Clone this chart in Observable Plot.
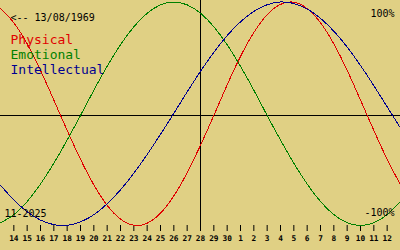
<!DOCTYPE html>
<html>
<head>
<meta charset="utf-8">
<script src="https://cdn.jsdelivr.net/npm/d3@7"></script>
<script src="https://cdn.jsdelivr.net/npm/@observablehq/plot@0.6"></script>
<style>
  html, body { margin: 0; padding: 0; background: #e0d084; }
  #chart svg { display: block; }
  #chart svg [aria-label="x-axis tick label"] text { font-family: "DejaVu Sans Mono", monospace; font-size: 7.8px; font-weight: bold; }
</style>
</head>
<body>
<div id="chart"></div>
<script>
// Day tick labels (index 1..29); index 15 = today (28)
const dayLabels = ["14","15","16","17","18","19","20","21","22","23","24","25","26","27","28","29","30","1","2","3","4","5","6","7","8","9","10","11","12"];
const todayIndex = 15;

// Series values per day index 0..30 (fraction of 100%)
const physical = [0.942,0.817,0.631,0.398,0.136,-0.136,-0.398,-0.631,-0.817,-0.942,-0.998,-0.979,-0.888,-0.731,-0.520,-0.270,0,0.270,0.520,0.731,0.888,0.979,0.998,0.942,0.817,0.631,0.398,0.136,-0.136,-0.398,-0.631];
const emotional = [-0.975,-0.901,-0.782,-0.623,-0.434,-0.223,0,0.223,0.434,0.623,0.782,0.901,0.975,1.0,0.975,0.901,0.782,0.623,0.434,0.223,0,-0.223,-0.434,-0.623,-0.782,-0.901,-0.975,-1.0,-0.975,-0.901,-0.782];
const intellectual = [-0.633,-0.768,-0.875,-0.951,-0.992,-0.998,-0.967,-0.902,-0.803,-0.676,-0.525,-0.354,-0.171,0.019,0.208,0.389,0.557,0.704,0.825,0.917,0.976,1.0,0.987,0.939,0.856,0.743,0.603,0.441,0.263,0.076,-0.114];

const seriesNames = ["Physical","Emotional","Intellectual"];
const seriesColors = ["#e00000","#008000","#000090"];
const birthLabel = "<-- 13/08/1969";
const monthLabel = "11-2025";
const topLabel = "100%";
const bottomLabel = "-100%";

const ticks = dayLabels.map((_, k) => k + 1);
const mono = "DejaVu Sans Mono";
const series = [physical, emotional, intellectual];

const chart = Plot.plot({
  width: 400,
  height: 250,
  marginTop: 0,
  marginLeft: 0,
  marginRight: 0,
  marginBottom: 25,
  style: { background: "#e0d084", fontFamily: mono, color: "black", overflow: "visible" },
  x: { domain: [0, physical.length - 1], range: [0, 400], axis: null },
  y: { type: "linear", domain: [-1, 0, 1], range: [225, 115, 1.5], axis: null },
  marks: [
    Plot.ruleY([0], { stroke: "black", strokeWidth: 1, shapeRendering: "crispEdges" }),
    Plot.ruleX([todayIndex], { stroke: "black", strokeWidth: 1, shapeRendering: "crispEdges" }),
    Plot.axisX({
      ticks: ticks,
      tickFormat: i => dayLabels[i - 1],
      tickSize: 6,
      tickPadding: 4,
      stroke: "black",
      fill: "black",
      fontSize: 7.8,
      fontWeight: "bold"
    }),
    ...series.map((s, k) =>
      Plot.line(s, { x: (d, i) => i, y: d => d, stroke: seriesColors[k], strokeWidth: 1, curve: "natural", shapeRendering: "crispEdges" })
    ),
    Plot.text([birthLabel], { text: d => d, frameAnchor: "top-left", lineAnchor: "top", dx: 10, dy: 13.4, fontSize: 10, fill: "black" }),
    ...seriesNames.map((name, k) =>
      Plot.text([name], { text: d => d, frameAnchor: "top-left", lineAnchor: "top", dx: 10, dy: 33.8 + 15.2 * k, fontSize: 13, fill: seriesColors[k] })
    ),
    Plot.text([topLabel], { text: d => d, frameAnchor: "top-right", lineAnchor: "top", dx: -6, dy: 9.4, fontSize: 10, fill: "black" }),
    Plot.text([bottomLabel], { text: d => d, frameAnchor: "top-right", lineAnchor: "top", dx: -6, dy: 208.4, fontSize: 10, fill: "black" }),
    Plot.text([monthLabel], { text: d => d, frameAnchor: "top-left", lineAnchor: "top", dx: 4, dy: 208.9, fontSize: 10, fill: "black" })
  ]
});
document.getElementById("chart").appendChild(chart);
</script>
</body>
</html>
